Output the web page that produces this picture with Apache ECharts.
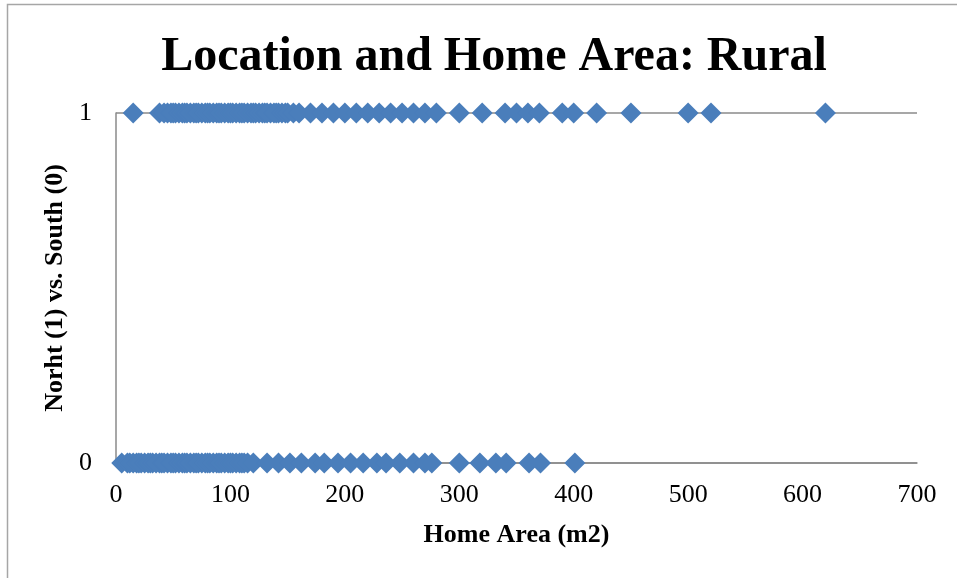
<!DOCTYPE html>
<html>
<head>
<meta charset="utf-8">
<script src="https://cdn.jsdelivr.net/npm/echarts@6/dist/echarts.min.js"></script>
<style>
  html, body { margin: 0; padding: 0; background: #ffffff; }
  #chart { width: 957px; height: 578px; }
</style>
</head>
<body>
<div id="chart"></div>
<script>
// Home areas (m2) of rural households, split by location
const northArea = [
  15, 38, 42, 45, 48, 50, 52, 55, 58, 60, 62, 65, 68, 70, 72, 75, 78, 80, 82, 85,
  88, 90, 92, 95, 98, 100, 102, 105, 108, 110, 112, 115, 118, 120, 122, 125, 128,
  130, 132, 135, 138, 140, 142, 145, 148, 150, 155, 160, 170, 180, 190, 200, 210,
  220, 230, 240, 250, 260, 270, 280, 300, 320, 340, 350, 360, 370, 390, 400, 420,
  450, 500, 520, 620
];
const southArea = [
  5, 10, 12, 15, 18, 20, 22, 25, 28, 30, 32, 35, 38, 40, 42, 45, 48, 50, 52, 55,
  58, 60, 62, 65, 68, 70, 72, 75, 78, 80, 82, 85, 88, 90, 92, 95, 98, 100, 102,
  105, 108, 110, 112, 115, 120, 132, 142, 152, 162, 174, 182, 194, 205, 216, 228,
  236, 248, 260, 270, 276, 300, 318, 332, 341, 361, 371, 401
];
const northValue = 1;
const southValue = 0;
const xTicks = [0, 100, 200, 300, 400, 500, 600, 700];
const yTicks = [0, 1];

const serif = '"Liberation Serif", "Times New Roman", serif';
const markerColor = '#4A7EBB';
const axisGray = '#8A8A8A';

const chart = echarts.init(document.getElementById('chart'), null, { renderer: 'canvas' });

chart.setOption({
  backgroundColor: '#ffffff',
  animation: false,
  title: {
    text: 'Location and Home Area: Rural',
    left: 489,
    textAlign: 'center',
    top: 29,
    textStyle: { fontFamily: serif, fontWeight: 'bold', fontSize: 48, color: '#000000' }
  },
  graphic: [{
    type: 'rect',
    shape: { x: 7.5, y: 4.5, width: 1000, height: 700 },
    style: { fill: null, stroke: '#A6A6A6', lineWidth: 1.5 },
    silent: true
  }],
  grid: { left: 116, right: 40, top: 113, bottom: 115 },
  xAxis: {
    type: 'value',
    min: xTicks[0],
    max: xTicks[xTicks.length - 1],
    interval: 100,
    name: 'Home Area (m2)',
    nameLocation: 'middle',
    nameGap: 59,
    nameTextStyle: { fontFamily: serif, fontWeight: 'bold', fontSize: 26, color: '#000000' },
    axisLine: { show: true, lineStyle: { color: axisGray, width: 1.5 } },
    axisTick: { show: false },
    splitLine: { show: false },
    axisLabel: { fontFamily: serif, fontSize: 26, color: '#000000', margin: 19 }
  },
  yAxis: {
    type: 'value',
    min: yTicks[0],
    max: yTicks[yTicks.length - 1],
    interval: 1,
    name: 'Norht (1) vs. South (0)',
    nameLocation: 'middle',
    nameGap: 47,
    nameRotate: 90,
    nameTextStyle: { fontFamily: serif, fontWeight: 'bold', fontSize: 26, color: '#000000' },
    axisLine: { show: true, lineStyle: { color: axisGray, width: 1.5 } },
    axisTick: { show: false },
    splitLine: { show: true, lineStyle: { color: axisGray, width: 1.5 } },
    axisLabel: { fontFamily: serif, fontSize: 26, color: '#000000', margin: 24 }
  },
  series: [
    {
      name: 'North',
      type: 'scatter',
      symbol: 'diamond',
      symbolSize: 21,
      itemStyle: { color: markerColor, opacity: 1 },
      data: northArea.map(a => [a, northValue])
    },
    {
      name: 'South',
      type: 'scatter',
      symbol: 'diamond',
      symbolSize: 21,
      itemStyle: { color: markerColor, opacity: 1 },
      data: southArea.map(a => [a, southValue])
    }
  ]
});
</script>
</body>
</html>
